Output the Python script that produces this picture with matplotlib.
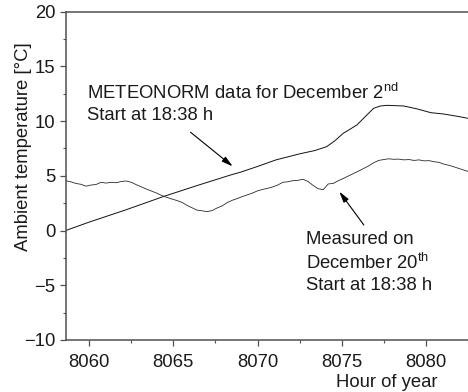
import matplotlib
matplotlib.use('Agg')
import matplotlib.pyplot as plt
from matplotlib.ticker import MultipleLocator

plt.rcParams['font.family'] = ['Liberation Sans', 'DejaVu Sans']
plt.rcParams['mathtext.fontset'] = 'custom'
plt.rcParams['mathtext.rm'] = 'Liberation Sans'
plt.rcParams['mathtext.it'] = 'Liberation Sans:italic'
plt.rcParams['mathtext.bf'] = 'Liberation Sans:bold'

# ---------------- data ----------------
meteonorm_hours = [8058.6, 8060.0, 8062.2, 8064.4, 8066.5, 8068.4, 8069.0, 8070.0,
                   8071.1, 8072.5, 8073.4, 8074.1, 8074.6, 8075.1, 8075.9, 8076.5,
                   8076.9, 8077.3, 8077.7, 8078.7, 8079.5, 8080.3, 8081.05, 8081.8,
                   8082.6]
meteonorm_temp = [0.0, 0.77, 1.9, 3.1, 4.15, 5.07, 5.33, 5.85,
                  6.45, 7.0, 7.3, 7.65, 8.2, 8.88, 9.63, 10.55,
                  11.16, 11.37, 11.43, 11.37, 11.1, 10.76, 10.64, 10.45,
                  10.22]

measured_hours = [8058.6, 8058.9, 8059.2, 8059.5, 8059.8, 8060.1, 8060.4, 8060.7,
                  8061.0, 8061.3, 8061.6, 8061.9, 8062.2, 8062.5, 8062.8, 8063.1,
                  8063.4, 8063.7, 8064.0, 8064.3, 8064.6, 8064.9, 8065.2, 8065.5,
                  8065.8, 8066.1, 8066.4, 8066.7, 8067.0, 8067.3, 8067.6, 8067.9,
                  8068.2, 8068.5, 8068.8, 8069.1, 8069.4, 8069.7, 8070.0, 8070.3,
                  8070.6, 8070.9, 8071.2, 8071.5, 8071.8, 8072.1, 8072.4, 8072.7,
                  8073.0, 8073.3, 8073.6, 8073.9, 8074.2, 8074.5, 8074.8, 8075.1,
                  8075.4, 8075.7, 8076.0, 8076.3, 8076.6, 8076.9, 8077.2, 8077.5,
                  8077.8, 8078.1, 8078.4, 8078.7, 8079.0, 8079.3, 8079.6, 8079.9,
                  8080.2, 8080.5, 8080.8, 8081.1, 8081.4, 8081.7, 8082.0, 8082.3,
                  8082.6]
measured_temp = [4.55, 4.45, 4.30, 4.22, 4.05, 4.15, 4.20, 4.40,
                 4.33, 4.40, 4.36, 4.48, 4.52, 4.40, 4.18, 3.98,
                 3.78, 3.60, 3.42, 3.20, 3.03, 2.88, 2.74, 2.58,
                 2.30, 2.08, 1.86, 1.80, 1.72, 1.82, 2.06, 2.25,
                 2.55, 2.76, 2.92, 3.10, 3.26, 3.42, 3.62, 3.75,
                 3.85, 3.98, 4.15, 4.40, 4.45, 4.55, 4.58, 4.68,
                 4.48, 4.12, 3.82, 3.72, 4.25, 4.30, 4.55, 4.75,
                 4.98, 5.20, 5.42, 5.66, 5.90, 6.18, 6.40, 6.48,
                 6.55, 6.50, 6.52, 6.45, 6.48, 6.40, 6.45, 6.36,
                 6.38, 6.28, 6.22, 6.05, 5.95, 5.80, 5.65, 5.50,
                 5.35]

x_ticks = [8060, 8065, 8070, 8075, 8080]
y_ticks = [-10, -5, 0, 5, 10, 15, 20]

label_meteo = "METEONORM data for December 2$^{\\mathrm{nd}}$\nStart at 18:38 h"
label_meas = "Measured on\nDecember 20$^{\\mathrm{th}}$\nStart at 18:38 h"

# ---------------- figure ----------------
FS = 13.3
fig = plt.figure(figsize=(4.68, 3.92), dpi=100)
ax = fig.add_axes([66 / 468, 52 / 392, 402 / 468, 328.5 / 392])

ax.plot(meteonorm_hours, meteonorm_temp, color='#111111', lw=0.7)
ax.plot(measured_hours, measured_temp, color='#2a2a2a', lw=0.6)

ax.set_xlim(8058.615, 8082.51)
ax.set_ylim(-10, 20)
ax.set_xticks(x_ticks)
ax.set_yticks(y_ticks)
ax.xaxis.set_minor_locator(MultipleLocator(2.5))
ax.yaxis.set_minor_locator(MultipleLocator(2.5))

spine_c = '#505050'
for s in ['left', 'bottom', 'top']:
    ax.spines[s].set_color(spine_c)
    ax.spines[s].set_linewidth(1.1)
ax.spines['right'].set_visible(False)

ax.tick_params(which='major', direction='out', length=4.3, width=0.9,
               color=spine_c, labelsize=FS, labelcolor='#1a1a1a')
ax.tick_params(which='minor', direction='out', length=2.2, width=0.8, color=spine_c)
ax.tick_params(axis='x', which='major', pad=6)
ax.tick_params(axis='y', which='major', pad=3.5)
ax.tick_params(axis='x', which='both', top=False)
ax.tick_params(axis='y', which='both', right=False)

ax.set_ylabel('Ambient temperature [°C]', fontsize=FS, color='#1a1a1a')
ax.yaxis.set_label_coords(-0.085, 0.589)
ax.set_xlabel('Hour of year', fontsize=FS, color='#1a1a1a')
ax.xaxis.set_label_coords(0.797, -0.103)

ax.text(8059.85, 13.47, label_meteo, fontsize=FS, color='#1a1a1a',
        ha='left', va='top', linespacing=1.3)
ax.text(8072.88, -0.09, label_meas, fontsize=FS, color='#1a1a1a',
        ha='left', va='top', linespacing=1.3)

arrow_kw = dict(arrowstyle='-|>,head_length=0.55,head_width=0.15', color='black',
                lw=0.8, shrinkA=0, shrinkB=0, mutation_scale=12)
ax.annotate('', xy=(8068.52, 5.86), xytext=(8066.02, 8.97), arrowprops=arrow_kw)
ax.annotate('', xy=(8074.86, 3.55), xytext=(8076.32, 0.5), arrowprops=arrow_kw)

fig.savefig('out.png', dpi=100)
